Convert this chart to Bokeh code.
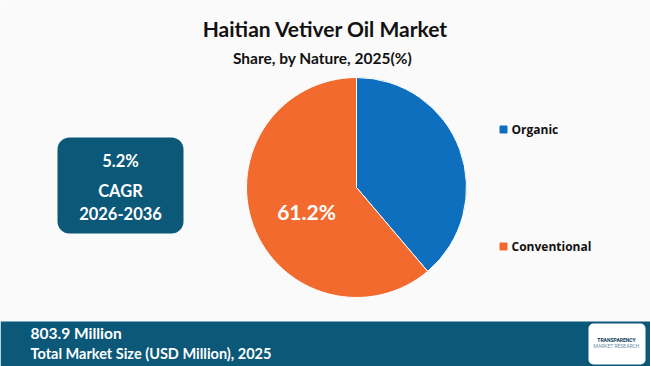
import math
from bokeh.plotting import figure
from bokeh.models import Range1d, BoxAnnotation, Label, ColumnDataSource
from bokeh.embed import file_html
from bokeh.resources import INLINE

# Data
categories = ["Organic", "Conventional"]
shares = [38.8, 61.2]
colors = ["#0F6FBF", "#F26A2E"]
title = "Haitian Vetiver Oil Market"
subtitle = "Share, by Nature, 2025(%)"
cagr_lines = ["5.2%", "CAGR", "2026-2036"]
market_value = "803.9 Million"
market_label = "Total Market Size (USD Million), 2025"

W, H = 650, 366
p = figure(width=W, height=H, output_backend="svg", toolbar_location=None,
           x_range=Range1d(0, W), y_range=Range1d(0, H), min_border=0)
p.axis.visible = False
p.grid.visible = False
p.outline_line_color = None
p.background_fill_color = "#FAFAFA"
p.border_fill_color = "#FAFAFA"

def Y(y):
    return H - y

# pie: clockwise from 12 o'clock
total = sum(shares)
starts, ends = [], []
a = math.pi / 2
for s in shares:
    b = a - s / total * 2 * math.pi
    starts.append(b)
    ends.append(a)
    a = b
src = ColumnDataSource(dict(cat=categories, start=starts, end=ends, color=colors))
cx, cy, r = 356, Y(187), 110
p.wedge(x=cx, y=cy, radius=r, start_angle="start", end_angle="end",
        color="color", line_color="white", line_width=1, source=src)

# slice label for conventional
p.add_layout(Label(x=cx - 50, y=cy - 24,
                   text=f"{shares[1]}%", text_color="white", text_font="Lato",
                   text_font_style="bold", text_font_size="21px",
                   text_align="center", text_baseline="middle"))

# titles
p.add_layout(Label(x=W / 2, y=Y(28), text=title, text_align="center", text_baseline="middle",
                   text_font="Lato", text_font_style="bold", text_font_size="21px",
                   text_color="#111111"))
p.add_layout(Label(x=322, y=Y(57), text=subtitle, text_align="center", text_baseline="middle",
                   text_font="Lato", text_font_style="bold", text_font_size="15.5px",
                   text_color="#111111"))

# legend
leg_y = [129, 246]
for cat, col, ly in zip(categories, colors, leg_y):
    p.rect(x=503, y=Y(ly), width=7, height=7, color=col)
    p.add_layout(Label(x=511, y=Y(ly), text=cat, text_baseline="middle",
                       text_font="Open Sans", text_font_style="bold",
                       text_font_size="12px", text_color="#111111"))

# CAGR box
box_col = "#0B5878"
p.add_layout(BoxAnnotation(left=57, right=183, top=Y(137), bottom=Y(233),
                           fill_color=box_col, fill_alpha=1, line_color=None,
                           border_radius=12))
for t, ty in zip(cagr_lines, [160, 190, 213]):
    p.add_layout(Label(x=120, y=Y(ty), text=t, text_align="center", text_baseline="middle",
                       text_font="Lato", text_font_style="bold", text_font_size="16.5px",
                       text_color="white"))

# footer
p.add_layout(BoxAnnotation(left=0, right=W, top=Y(321), bottom=0,
                           fill_color=box_col, fill_alpha=1, line_color=None))
p.add_layout(Label(x=30, y=Y(332), text=market_value, text_baseline="middle",
                   text_font="Lato", text_font_style="bold", text_font_size="15.5px",
                   text_color="white"))
p.add_layout(Label(x=30, y=Y(353), text=market_label, text_baseline="middle",
                   text_font="Lato", text_font_style="bold", text_font_size="14.5px",
                   text_color="white"))

# logo
p.add_layout(BoxAnnotation(left=588, right=645, top=Y(323), bottom=Y(364),
                           fill_color="white", fill_alpha=1, line_color=None,
                           border_radius=5))
p.add_layout(Label(x=616, y=Y(339), text="TRANSPARENCY", text_align="center",
                   text_baseline="middle", text_font="Roboto", text_font_style="bold",
                   text_font_size="5px", text_color="#0B3A5A"))
p.add_layout(Label(x=616, y=Y(345), text="MARKET RESEARCH", text_align="center",
                   text_baseline="middle", text_font="Roboto",
                   text_font_size="5px", text_color="#6A8FA8"))

open("out.html", "w").write(file_html(p, INLINE))
